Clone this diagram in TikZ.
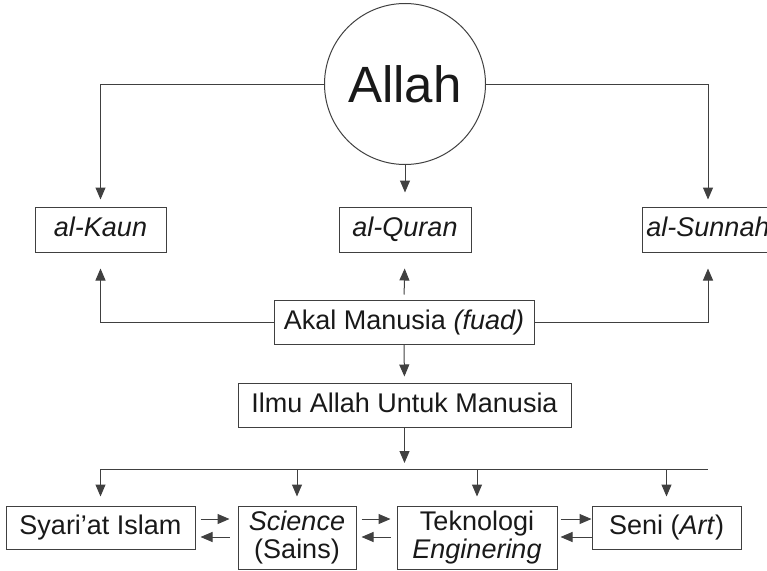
\documentclass[tikz,border=0pt]{standalone}
\usepackage{fontspec}
\setmainfont{Liberation Sans}
\usetikzlibrary{arrows.meta,calc}
\begin{document}
\begin{tikzpicture}[x=1pt,y=-1pt,
  line width=1pt,
  lc/.style={draw=black!75},
  arr/.style={lc,-{Triangle[length=12pt,width=10pt]}},
  box/.style={lc,rectangle,inner sep=0pt,align=center,text=black!90,font=\fontsize{27}{28}\selectfont},
  one/.style={text height=19.5pt,text depth=5.5pt},
]
\useasboundingbox (0,0) rectangle (767,570);
\node[lc,circle,minimum size=161pt,inner sep=0pt,text=black!90,font=\fontsize{51}{55}\selectfont] (allah) at (405,84) {Allah};
\node[box,one,minimum width=131pt,minimum height=45pt] (kaun) at (100.5,229.5) {\itshape al-Kaun};
\node[box,one,minimum width=132pt,minimum height=45pt] (quran) at (405,229.5) {\itshape al-Quran};
\node[box,one,minimum width=132pt,minimum height=45pt] (sunnah) at (708,229.5) {\itshape al-Sunnah};
\node[box,one,minimum width=260pt,minimum height=44pt] (akal) at (404,322) {Akal Manusia \textit{(fuad)}};
\node[box,one,minimum width=333pt,minimum height=44pt] (ilmu) at (404.5,405) {Ilmu Allah Untuk Manusia};
\node[box,one,minimum width=189pt,minimum height=43pt] (syariat) at (100.5,527.5) {Syari’at Islam};
\node[box,minimum width=118pt,minimum height=63pt] (science) at (297,537.5) {\textit{Science}\\(Sains)};
\node[box,minimum width=160pt,minimum height=63pt] (tek) at (477,537.5) {Teknologi\\\textit{Enginering}};
\node[box,one,minimum width=149pt,minimum height=43pt] (seni) at (666.5,527.5) {Seni (\textit{Art})};
% Allah to the three sources
\draw[arr,shorten >=7pt] (allah.west) -| (kaun.north);
\draw[arr,shorten >=14pt] (allah.south) -- (quran.north);
\draw[arr,shorten >=7pt] (allah.east) -| (sunnah.north);
% Akal to the three sources
\draw[arr,shorten >=16pt] (akal.west) -| (kaun.south);
\draw[arr,shorten <=5pt,shorten >=16pt] (akal.north) -- (quran.south);
\draw[arr,shorten >=16pt] (akal.east) -| (sunnah.south);
% Akal to Ilmu
\draw[arr,shorten >=6pt] (akal.south) -- (ilmu.north);
% bus
\coordinate (busL) at (100.5,469);
\coordinate (busR) at (708,469);
\coordinate (busM) at (404.5,469);
\draw[arr,shorten >=6pt] (ilmu.south) -- (busM);
\draw[lc] (busL) -- (busR);
\foreach \n in {syariat,science,tek,seni}{
  \draw[arr,shorten >=9pt] (busL -| \n.north) -- (\n.north);
}
% horizontal pairs
\draw[arr] ($(syariat.east)+(5,-8.5)$) -- ($(science.west |- syariat.east)+(-8,-8.5)$);
\draw[arr] ($(science.west |- syariat.east)+(-8,9.5)$) -- ($(syariat.east)+(5,9.5)$);
\draw[arr] ($(science.east |- syariat.east)+(5,-8.5)$) -- ($(tek.west |- syariat.east)+(-6,-8.5)$);
\draw[arr] ($(tek.west |- syariat.east)+(-6,9.5)$) -- ($(science.east |- syariat.east)+(5,9.5)$);
\draw[arr] ($(tek.east |- syariat.east)+(3,-8.5)$) -- ($(seni.west |- syariat.east)+(0,-8.5)$);
\draw[arr] ($(seni.west |- syariat.east)+(0,9.5)$) -- ($(tek.east |- syariat.east)+(3,9.5)$);
\end{tikzpicture}
\end{document}
